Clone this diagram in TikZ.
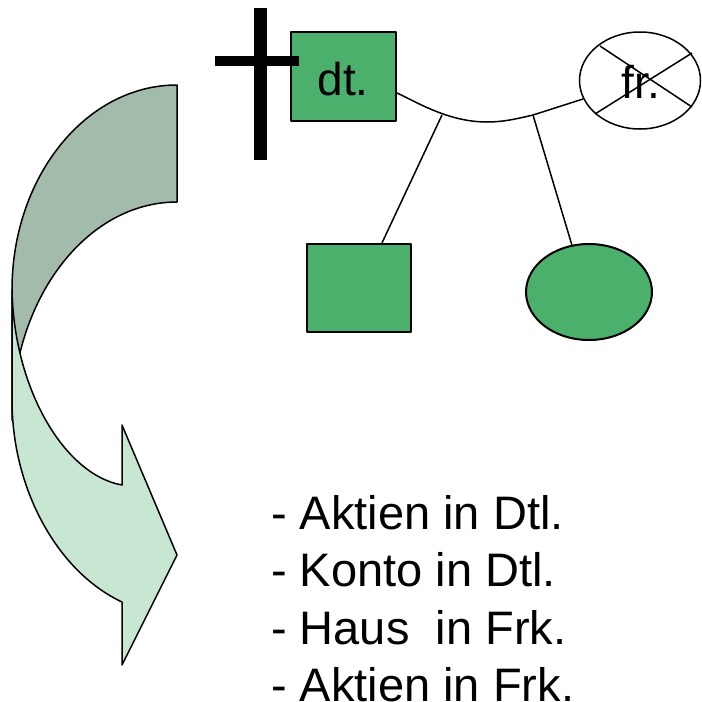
\documentclass[tikz,border=0pt]{standalone}
\usepackage{fontspec}
\setmainfont{Liberation Sans}
\usetikzlibrary{shapes.geometric,calc}
\definecolor{gbox}{RGB}{75,176,107}
\definecolor{adark}{RGB}{162,187,170}
\definecolor{alight}{RGB}{200,231,211}
\begin{document}
\begin{tikzpicture}[x=1pt,y=-1pt,line join=round,
  conn/.style={line width=1.5pt},
  greenbox/.style={draw,line width=2.2pt,fill=gbox,rectangle,inner sep=0pt},
  greenoval/.style={draw,line width=2pt,fill=gbox,ellipse,inner sep=0pt},
  lbl/.style={inner sep=0pt,font=\fontsize{46}{55}\selectfont},
  listtext/.style={inner sep=0pt,anchor=base west,font=\fontsize{47}{57}\selectfont},
  arrowpart/.style={draw,line width=1.5pt}]
\useasboundingbox (0,0) rectangle (702,702);
% curved arrow, back part
\path[arrowpart,fill=adark] (177,85) .. controls (85.9,85) and (12,176.8) .. (12,290)
  -- (12,420) .. controls (12,299.6) and (85.9,202) .. (177,202) -- cycle;
% curved arrow, front part with head
\path[arrowpart,fill=alight] (12,290) -- (12,400) .. controls (12,490) and (58,572) .. (122,602)
  -- (122,665) -- (177,555) -- (122,425) -- (122,485)
  .. controls (65,475) and (14,390) .. (12,290) -- cycle;
% nodes
\node[greenbox,minimum width=105pt,minimum height=89pt] (dt) at (343.5,76.5) {};
\node[draw,ellipse,line width=1.5pt,fill=white,inner sep=0pt,minimum width=121pt,minimum height=97pt] (fr) at (640,80.5) {};
\node[greenbox,minimum width=104pt,minimum height=88pt] (sq) at (359,288) {};
\node[greenoval,minimum width=126pt,minimum height=96pt] (ov) at (589,292) {};
% labels
\node[lbl,anchor=base] at (343,95) {dt.};
\node[lbl,anchor=base] at (641,98) {fr.};
% cross-out of fr.
\draw[conn] (600,46) -- (692,107);
\draw[conn] (595,114) -- (692,53);
% death cross
\fill (254,8) rectangle (267,160);
\fill (215,56) rectangle (299,66);
% marriage line
\coordinate (j1) at (442,115);
\coordinate (j2) at (533,115);
\draw[conn] ($(dt.east)+(0,16.5)$) .. controls (420,104) and (450,122) .. (487,122)
  .. controls (505,122) and (520,118) .. (j2) -- (fr.198);
\draw[conn] (j1) -- ($(sq.north)+(23,0)$);
\draw[conn] (j2) -- (ov.110);
% list
\node[listtext] at (271,529) {- Aktien in Dtl.};
\node[listtext] at (271,586) {- Konto in Dtl.};
\node[listtext] at (271,644) {- Haus\ \ in Frk.};
\node[listtext] at (271,701) {- Aktien in Frk.};
\end{tikzpicture}
\end{document}
